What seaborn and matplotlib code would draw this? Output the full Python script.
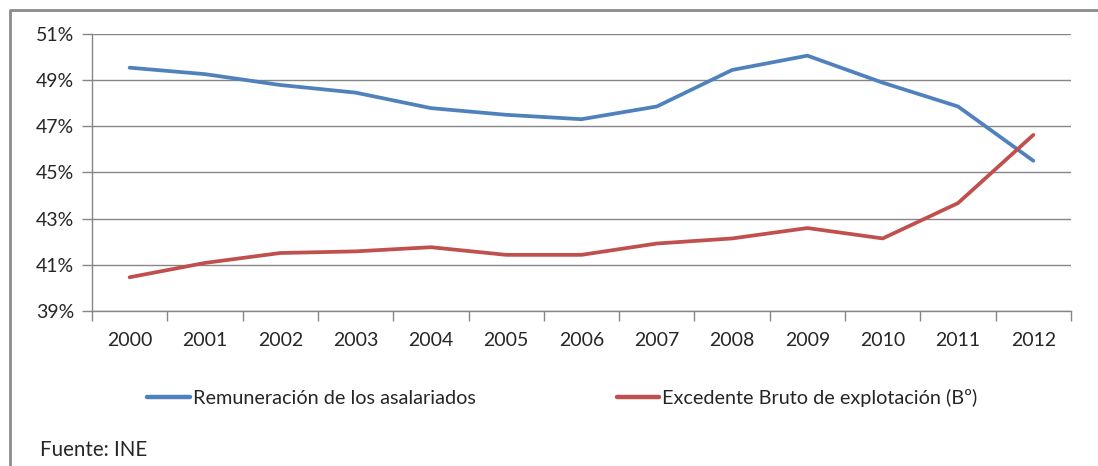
import matplotlib
matplotlib.use("Agg")
import matplotlib.pyplot as plt
from matplotlib.ticker import FixedLocator, FuncFormatter
import seaborn as sns
import pandas as pd

years = list(range(2000, 2013))
remuneracion = [49.53, 49.25, 48.78, 48.45, 47.78, 47.49, 47.30, 47.85, 49.43, 50.05, 48.88, 47.85, 45.50]
excedente = [40.46, 41.08, 41.51, 41.58, 41.76, 41.43, 41.43, 41.92, 42.14, 42.59, 42.14, 43.67, 46.62]
series_names = ["Remuneración de los asalariados", "Excedente Bruto de explotación (Bº)"]
y_ticks = [39, 41, 43, 45, 47, 49, 51]
source_note = "Fuente: INE"

sns.set_theme(style="white")
plt.rcParams["font.family"] = ["Lato", "DejaVu Sans"]
text_color = "#262626"
grid_color = "#868686"
fs = 14

df = pd.DataFrame({
    "year": years * 2,
    "value": remuneracion + excedente,
    "serie": [series_names[0]] * len(years) + [series_names[1]] * len(years),
})

fig = plt.figure(figsize=(10.98, 4.66), dpi=100)
W, H = 1098, 466
ax = fig.add_axes([92 / W, 1 - 311 / H, (1071 - 92) / W, (311 - 33.7) / H])

sns.lineplot(data=df, x="year", y="value", hue="serie",
             palette=["#4F81BD", "#C0504D"], linewidth=2.7,
             ax=ax, legend=True)

ax.set_xlim(1999.5, 2012.5)
ax.set_ylim(39, 51)
ax.set_xticks(years)
ax.set_xticklabels([str(y) for y in years])
ax.xaxis.set_minor_locator(FixedLocator([y - 0.5 for y in years] + [2012.5]))
ax.yaxis.set_major_locator(FixedLocator(y_ticks))
ax.yaxis.set_major_formatter(FuncFormatter(lambda v, p: f"{v:.0f}%"))
ax.set_xlabel("")
ax.set_ylabel("")

ax.grid(axis="y", color=grid_color, linewidth=1.0)
ax.set_axisbelow(True)
for side in ("top", "right"):
    ax.spines[side].set_visible(False)
for side in ("left", "bottom"):
    ax.spines[side].set_color(grid_color)
    ax.spines[side].set_linewidth(1.0)

ax.tick_params(axis="x", which="major", length=0, pad=15, labelsize=fs, colors=text_color)
ax.tick_params(axis="x", which="minor", bottom=True, length=7, width=1, color=grid_color)
ax.tick_params(axis="y", which="major", left=True, length=7, width=1, color=grid_color,
               pad=6, labelsize=fs, labelcolor=text_color)

handles, labels = ax.get_legend_handles_labels()
ax.get_legend().remove()
leg = fig.legend(handles, labels, loc="center left",
                 bbox_to_anchor=(147 / W, 1 - 398 / H), ncol=2, frameon=False,
                 fontsize=14.3, handlelength=2.15, handletextpad=0.15,
                 columnspacing=7.1, borderpad=0, borderaxespad=0)
for t in leg.get_texts():
    t.set_color(text_color)
for line in leg.get_lines():
    line.set_linewidth(3.2)

fig.text(40 / W, 1 - 450 / H, source_note, fontsize=14.8, color=text_color,
         ha="left", va="center")

# outer chart frame (left and top edges)
frame = plt.Line2D([9.5 / W, 9.5 / W, 1.0], [0.0, 1 - 10 / H, 1 - 10 / H],
                   transform=fig.transFigure, color="#8c8c8c", linewidth=2.0)
fig.add_artist(frame)

fig.savefig("out.png", dpi=100, facecolor="white")
